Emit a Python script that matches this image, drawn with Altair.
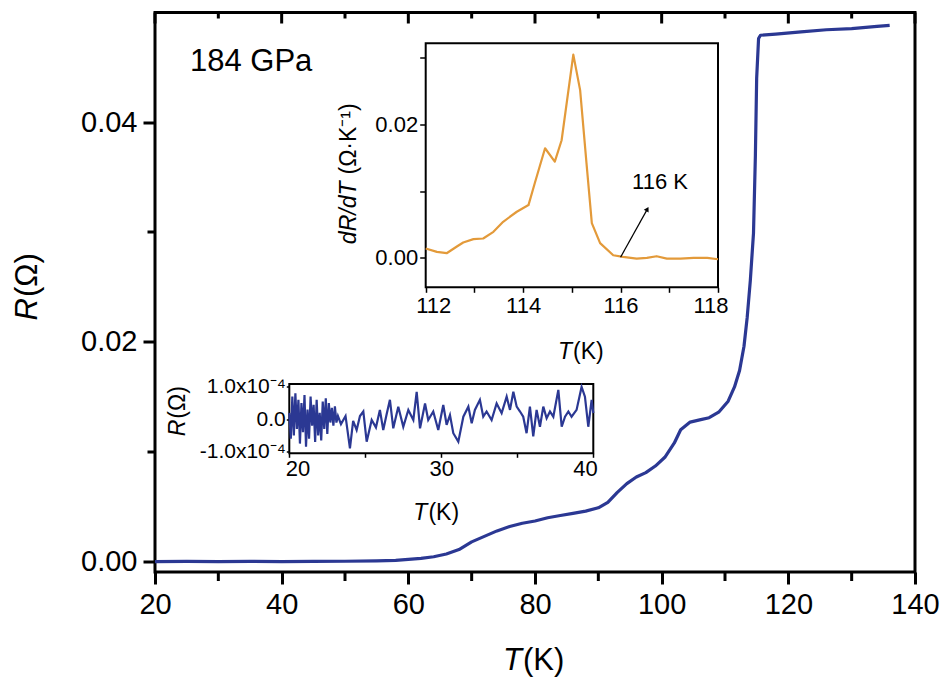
import altair as alt
import pandas as pd

# ---------------- data ----------------
# main curve: R (ohm) versus T (K) at 184 GPa
T_main = [20, 25, 30, 35, 40, 45, 50, 55, 58, 60, 62, 64, 66, 68, 70, 72, 74, 76, 78, 80,
          82, 84, 86, 88, 90, 91.5, 93, 94.5, 96, 97.5, 99, 100.5, 102, 103, 104.5, 106,
          107.5, 109, 110.5, 111.5, 112.3, 113, 113.5, 114, 114.5, 114.8, 115, 115.3, 115.6,
          118, 122, 126, 130, 134, 136]
R_main = [0, 0.00003, 0, 0.00002, 0.00001, 0.00003, 0.00004, 0.00008, 0.00012, 0.0002,
          0.0003, 0.00045, 0.0007, 0.0011, 0.0018, 0.0023, 0.0028, 0.0032, 0.0035, 0.0037,
          0.0040, 0.0042, 0.0044, 0.0046, 0.0049, 0.0054, 0.0063, 0.0071, 0.0077, 0.0081,
          0.0087, 0.0095, 0.0108, 0.0120, 0.0127, 0.0129, 0.0131, 0.0136, 0.0146, 0.0159,
          0.0174, 0.0196, 0.0222, 0.0256, 0.0299, 0.0370, 0.0440, 0.0476, 0.0479, 0.0480,
          0.0482, 0.0484, 0.0485, 0.0487, 0.0488]

# upper inset: dR/dT (ohm/K) versus T (K)
T_d = [112.0, 112.23, 112.43, 112.64, 112.77, 112.98, 113.18, 113.39, 113.59, 113.87,
       114.11, 114.24, 114.45, 114.65, 114.79, 115.03, 115.17, 115.30, 115.41, 115.58,
       115.85, 116.05, 116.33, 116.54, 116.74, 116.95, 117.23, 117.5, 117.78, 118.0]
dRdT = [0.0014, 0.0009, 0.0007, 0.0017, 0.0023, 0.0028, 0.0029, 0.0039, 0.0054, 0.0069,
        0.0079, 0.0112, 0.0164, 0.0144, 0.0176, 0.0304, 0.0251, 0.0142, 0.0052, 0.0022,
        0.0004, 0.00015, -0.0001, 0.0, 0.00025, -0.0001, -0.0001, 0.0, 0.0, -0.0002]

# lower inset: R (units of 1e-4 ohm) versus T (K), 20-40 K
T_n = [20.0, 20.1, 20.2, 20.3, 20.4, 20.5, 20.6, 20.7, 20.8, 20.9, 21.0, 21.1, 21.2, 21.3,
       21.4, 21.5, 21.6, 21.7, 21.8, 21.9, 22.0, 22.1, 22.2, 22.3, 22.4, 22.5, 22.6, 22.7,
       22.8, 22.9, 23.0, 23.1, 23.2,
       23.4, 23.7, 23.99, 24.2, 24.43, 24.65, 24.87, 25.09, 25.42, 25.7, 25.96, 26.18, 26.4,
       26.62, 26.84, 27.17, 27.5, 27.83, 28.16, 28.38, 28.6, 28.93, 29.14, 29.47, 29.8,
       30.13, 30.35, 30.57, 30.79, 31.12, 31.45, 31.78, 32.0, 32.21, 32.54, 32.76, 32.98,
       33.31, 33.64, 33.97, 34.3, 34.52, 34.74, 34.96, 35.18, 35.39, 35.61, 35.83, 36.05,
       36.27, 36.49, 36.71, 36.93, 37.15, 37.37, 37.7, 37.92, 38.14, 38.36, 38.57, 38.9,
       39.23, 39.45, 39.67, 39.89, 40.0]
R_n = [0.2, -0.6, 0.7, -0.5, 0.8, -0.3, 0.6, -0.75, 0.5, -0.4, 0.75, -0.85, 0.3, -0.6,
       0.7, -0.2, 0.45, -0.7, 0.6, -0.5, 0.2, -0.65, 0.55, -0.3, 0.65, -0.45, 0.5, -0.1,
       0.35, -0.2, 0.4, -0.1, 0.1,
       -0.15, 0.1, -0.9, -0.05, -0.33, 0.1, 0.24, -0.69, -0.02, -0.25, 0.29, -0.33, 0.15,
       0.6, -0.28, 0.39, -0.23, 0.29, -0.02, 0.85, -0.28, 0.49, -0.02, 0.24, -0.33,
       0.44, -0.17, 0.13, -0.43, -0.69, 0.08, 0.39, -0.12, 0.29, 0.6, 0.08, 0.24,
       -0.02, 0.49, 0.19, 0.7, 0.29, 0.85, 0.39, 0.24, 0.08, -0.43, 0.39, -0.53,
       0.29, -0.23, 0.39, 0.03, 0.24, 0.08, 0.91, -0.23, 0.08, 0.24, 0.08, 0.29,
       1.0, 0.7, -0.23, 0.6, 0.19]

# tick positions of the main temperature axis
T_major = [20, 40, 60, 80, 100, 120, 140]
T_minor = [30, 50, 70, 90, 110, 130]

# ---------------- layout / style ----------------
FONT = "Liberation Sans"
BLUE = "#2B3893"
ORANGE = "#E39A3A"
W, H = 760, 559.5

main_df = pd.DataFrame({"T": T_main, "R": R_main})
d_df = pd.DataFrame({"T": T_d, "D": dRdT})
n_df = pd.DataFrame({"T": T_n, "N": R_n})
major_df = pd.DataFrame({"T": T_major})
minor_df = pd.DataFrame({"T": T_minor})
one = pd.DataFrame({"k": [0]})

common = dict(grid=False, title=None, domain=False, tickColor="black", labelColor="black",
              labelFont=FONT, labelOverlap=False)

# main scales
mx = alt.Scale(domain=[20, 140], range=[0, W], nice=False, zero=False)
my = alt.Scale(domain=[-0.00094, 0.04997], range=[H, 0], nice=False, zero=False)
main_xaxis = alt.Axis(orient="bottom", values=T_major, format="d", tickSize=12, tickWidth=3,
                      labelFontSize=29, labelPadding=6, labelFlush=False, **common)
main_yaxis = alt.Axis(orient="left", values=[0, 0.02, 0.04], format=".2f", tickSize=12,
                      tickWidth=3, labelFontSize=29, labelPadding=6, **common)

main_line = alt.Chart(main_df).mark_line(color=BLUE, strokeWidth=3.2, strokeJoin="round").encode(
    x=alt.X("T:Q", scale=mx, axis=main_xaxis),
    y=alt.Y("R:Q", scale=my, axis=main_yaxis),
)


# extra tick marks on the temperature scale (bottom minor, top inward major/minor),
# drawn through the same (shared) temperature scale as the main curve
def xticks(df, y0, y1):
    return alt.Chart(df).mark_rule(color="black", strokeWidth=3).encode(
        x=alt.X("T:Q", scale=mx, axis=main_xaxis), y=alt.value(y0), y2=alt.value(y1))


main = alt.layer(
    main_line,
    xticks(minor_df, H, H + 9),
    xticks(major_df, 0, 11),
    xticks(minor_df, 0, 6),
)

main_minor_y = alt.Chart(main_df).mark_line(opacity=0).encode(
    x=alt.X("T:Q", scale=mx, axis=None),
    y=alt.Y("R:Q", scale=my, axis=alt.Axis(orient="left", values=[0.01, 0.03], labels=False,
                                           tickSize=8, tickWidth=3, **common)),
)

# ---- upper inset (dR/dT) ----
i1_xd = [112, 118]
i1_yd = [-0.0044, 0.0321]
i1x = alt.Scale(domain=i1_xd, range=[270.7, 563], nice=False, zero=False)
i1y = alt.Scale(domain=i1_yd, range=[274.8, 30.8], nice=False, zero=False)
i1_xaxis = alt.Axis(orient="bottom", values=[112, 113, 114, 115, 116, 117, 118],
                    labelExpr="datum.value % 2 == 0 ? format(datum.value, 'd') : ''",
                    offset=-284.7, tickSize=5, tickWidth=1.5, labelFontSize=22, labelPadding=3,
                    labelFlush=True, labelFlushOffset=10, **common)
i1_yaxis = alt.Axis(orient="left", values=[0, 0.01, 0.02, 0.03],
                    labelExpr="(abs(datum.value) < 1e-9 || abs(datum.value - 0.02) < 1e-9) ? format(datum.value, '.2f') : ''",
                    offset=-270.7, tickSize=6, tickWidth=1.5, labelFontSize=22, labelPadding=2,
                    **common)

i1_frame = alt.Chart(pd.DataFrame({"x0": [i1_xd[0]], "x1": [i1_xd[1]],
                                   "y0": [i1_yd[0]], "y1": [i1_yd[1]]})).mark_rect(
    fill="white", stroke="black", strokeWidth=2).encode(
    x=alt.X("x0:Q", scale=i1x, axis=i1_xaxis), x2="x1:Q",
    y=alt.Y("y0:Q", scale=i1y, axis=i1_yaxis), y2="y1:Q")
i1_line = alt.Chart(d_df).mark_line(color=ORANGE, strokeWidth=2.2, strokeJoin="round").encode(
    x=alt.X("T:Q", scale=i1x, axis=i1_xaxis),
    y=alt.Y("D:Q", scale=i1y, axis=i1_yaxis))
arrow_df = pd.DataFrame({"x0": [116.0], "y0": [0.0001], "x1": [116.55], "y1": [0.0073]})
i1_arrow = alt.Chart(arrow_df).mark_rule(color="black", strokeWidth=1.2).encode(
    x=alt.X("x0:Q", scale=i1x, axis=i1_xaxis), x2="x1:Q",
    y=alt.Y("y0:Q", scale=i1y, axis=i1_yaxis), y2="y1:Q")
i1_head = alt.Chart(arrow_df).mark_point(shape="triangle-up", filled=True, size=30, angle=29,
                                          color="black", opacity=1).encode(
    x=alt.X("x1:Q", scale=i1x, axis=i1_xaxis),
    y=alt.Y("y1:Q", scale=i1y, axis=i1_yaxis))
i1_text = alt.Chart(pd.DataFrame({"x": [116.81], "y": [0.01135], "t": ["116 K"]})).mark_text(
    font=FONT, fontSize=22, color="black", baseline="middle", align="center").encode(
    x=alt.X("x:Q", scale=i1x, axis=i1_xaxis),
    y=alt.Y("y:Q", scale=i1y, axis=i1_yaxis), text="t:N")
inset1 = alt.layer(i1_frame, i1_line, i1_arrow, i1_head, i1_text)

# ---- lower inset (noise) ----
i2_xd = [20, 40]
i2_yd = [-1.05, 1.09]
i2x = alt.Scale(domain=i2_xd, range=[134.3, 438.3], nice=False, zero=False)
i2y = alt.Scale(domain=i2_yd, range=[440.8, 371.5], nice=False, zero=False)
i2_xaxis = alt.Axis(orient="bottom", values=[20, 25, 30, 35, 40],
                    labelExpr="datum.value % 10 == 0 ? format(datum.value, 'd') : ''",
                    offset=-118.7, tickSize=4, tickWidth=1.5, labelFontSize=22, labelPadding=1,
                    labelFlush=True, labelFlushOffset=4, **common)
i2_yaxis = alt.Axis(orient="left", values=[-1, 0, 1],
                    labelExpr="datum.value == 0 ? '0.0' : (datum.value > 0 ? '1.0x10⁻⁴' : '-1.0x10⁻⁴')",
                    offset=-134.3, tickSize=3, tickWidth=1.5, labelFontSize=21, labelPadding=1,
                    **common)
i2_frame = alt.Chart(pd.DataFrame({"x0": [i2_xd[0]], "x1": [i2_xd[1]],
                                   "y0": [i2_yd[0]], "y1": [i2_yd[1]]})).mark_rect(
    fill="white", stroke="black", strokeWidth=2).encode(
    x=alt.X("x0:Q", scale=i2x, axis=i2_xaxis), x2="x1:Q",
    y=alt.Y("y0:Q", scale=i2y, axis=i2_yaxis), y2="y1:Q")
i2_line = alt.Chart(n_df).mark_line(color=BLUE, strokeWidth=2.2, strokeJoin="miter").encode(
    x=alt.X("T:Q", scale=i2x, axis=i2_xaxis),
    y=alt.Y("N:Q", scale=i2y, axis=i2_yaxis))
inset2 = alt.layer(i2_frame, i2_line)


# ---- text titles (italic symbol + upright unit) ----
def txt(text, x, y, size, italic=False, angle=0, align="center", baseline="alphabetic"):
    return alt.Chart(one).mark_text(
        text=text, font=FONT, fontSize=size, fontStyle="italic" if italic else "normal",
        angle=angle, align=align, baseline=baseline, color="black").encode(
        x=alt.value(x), y=alt.value(y))


texts = [
    txt("184 GPa", 35, 58.5, 31, align="left"),
    # main x title
    txt("T", 367, 648.5, 31, italic=True, align="right", baseline="middle"),
    txt("(K)", 368, 648.5, 31, align="left", baseline="middle"),
    # main y title
    txt("R", -127, 285.5, 31, italic=True, angle=270, align="right", baseline="middle"),
    txt("(Ω)", -127, 284.5, 31, angle=270, align="left", baseline="middle"),
    # inset1 titles
    txt("dR/dT", 194, 169, 23, italic=True, angle=270, align="right", baseline="middle"),
    txt("(Ω·K⁻¹)", 194, 162, 23, angle=270, align="left", baseline="middle"),
    txt("T", 417, 339.5, 23, italic=True, align="right", baseline="middle"),
    txt("(K)", 418, 339.5, 23, align="left", baseline="middle"),
    # inset2 titles
    txt("R", 23, 407.2, 23, italic=True, angle=270, align="right", baseline="middle"),
    txt("(Ω)", 23, 406.2, 23, angle=270, align="left", baseline="middle"),
    txt("T", 272.4, 500, 23, italic=True, align="right", baseline="middle"),
    txt("(K)", 273.4, 500, 23, align="left", baseline="middle"),
]

chart = alt.layer(main, main_minor_y, inset1, inset2, *texts).resolve_scale(
    x="independent", y="independent"
).properties(
    width=W, height=H,
    padding={"left": 155, "top": 12.5, "right": 29, "bottom": 105},
    autosize=alt.AutoSizeParams(type="none"),
    background="white",
).configure_view(stroke="black", strokeWidth=3)

chart.save("out.html", embed_options={"renderer": "svg", "actions": False})
